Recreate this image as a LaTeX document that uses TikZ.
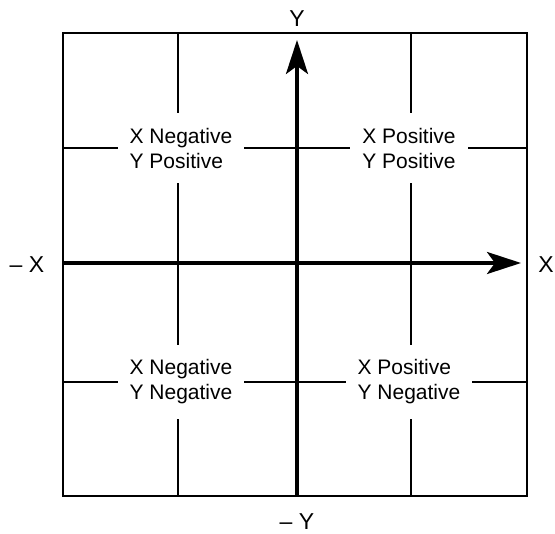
\documentclass[tikz,border=0pt]{standalone}
\usepackage{fontspec}
\setmainfont{Liberation Sans}
\usetikzlibrary{arrows.meta}
\begin{document}
\begin{tikzpicture}[x=1pt,y=-1pt,
  grid/.style={line width=1.8pt},
  axis/.style={line width=3.6pt,-{Stealth[length=34pt,width=22pt,inset=8pt]}},
  quad/.style={fill=white,align=left,inner xsep=12pt,inner ysep=15pt,font=\fontsize{21}{25}\selectfont},
  axlabel/.style={font=\fontsize{23}{26}\selectfont,inner sep=0pt}]
\useasboundingbox (0,0) rectangle (555,534);
% frame and grid
\coordinate (TL) at (63,33);
\coordinate (BR) at (527,496);
\draw[grid] (TL) rectangle (BR);
\coordinate (v1t) at (178,33); \coordinate (v1b) at (178,496);
\coordinate (v2t) at (411,33); \coordinate (v2b) at (411,496);
\coordinate (h1l) at (63,148); \coordinate (h1r) at (527,148);
\coordinate (h2l) at (63,382); \coordinate (h2r) at (527,382);
\draw[grid] (v1t) -- (v1b);
\draw[grid] (v2t) -- (v2b);
\draw[grid] (h1l) -- (h1r);
\draw[grid] (h2l) -- (h2r);
% quadrant labels
\node[quad] (q2) at (181,148) {X Negative\\Y Positive};
\node[quad] (q1) at (409,148) {X Positive\\Y Positive};
\node[quad] (q3) at (181,382) {X Negative\\Y Negative};
\node[quad] (q4) at (409,382) {X Positive\\Y Negative};
% axes
\coordinate (xs) at (63,263);
\coordinate (xe) at (521,263);
\coordinate (ys) at (297,496);
\coordinate (ye) at (297,40);
\draw[axis] (xs) -- (xe);
\draw[axis] (ys) -- (ye);
% axis labels
\node[axlabel] (ly) at (297,19) {Y};
\node[axlabel] (lmy) at (297,522) {– Y};
\node[axlabel] (lmx) at (27,265) {– X};
\node[axlabel,anchor=east] (lx) at (554,265) {X};
\end{tikzpicture}
\end{document}
